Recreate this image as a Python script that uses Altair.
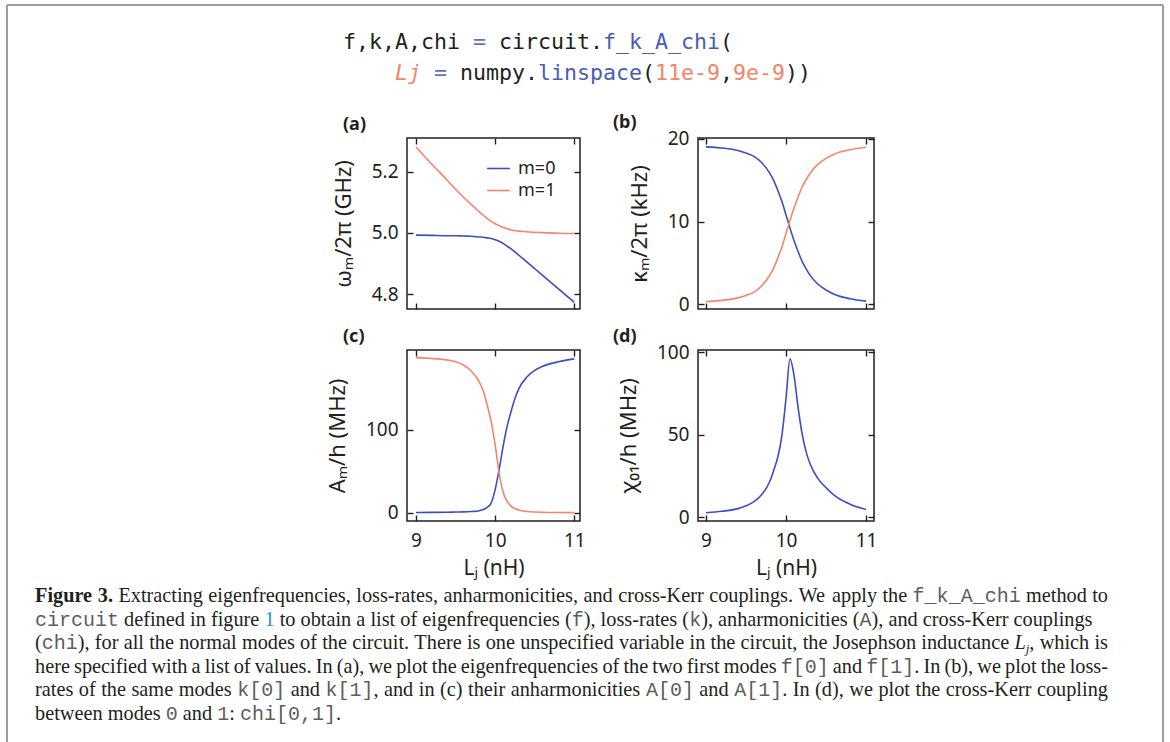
import altair as alt
import pandas as pd

# ---------------- data ----------------
Lj = [9.0, 9.2, 9.4, 9.5, 9.6, 9.7, 9.8, 9.85, 9.9, 9.95, 10.0, 10.05,
      10.1, 10.15, 10.2, 10.25, 10.3, 10.4, 10.5, 10.6, 10.8, 11.0]
f_m0 = [4.993, 4.992, 4.991, 4.991, 4.990, 4.989, 4.987, 4.986, 4.984, 4.982, 4.978, 4.973,
        4.966, 4.957, 4.948, 4.938, 4.927, 4.905, 4.883, 4.861, 4.817, 4.773]
f_m1 = [5.282, 5.225, 5.171, 5.143, 5.117, 5.093, 5.069, 5.058, 5.047, 5.038, 5.030, 5.024,
        5.018, 5.014, 5.010, 5.008, 5.006, 5.004, 5.002, 5.001, 4.999, 4.998]
k_m0 = [19.05, 18.9, 18.6, 18.3, 17.9, 17.1, 15.8, 14.9, 13.7, 12.4, 10.8, 9.2,
        7.7, 6.4, 5.2, 4.3, 3.5, 2.4, 1.7, 1.2, 0.65, 0.35]
k_m1 = [0.3, 0.45, 0.75, 1.05, 1.45, 2.25, 3.55, 4.45, 5.65, 6.95, 8.55, 10.15,
        11.65, 12.95, 14.15, 15.05, 15.85, 16.95, 17.65, 18.15, 18.7, 19.0]
A_m0 = [0.3, 0.4, 0.6, 0.8, 1.0, 1.5, 2.5, 3.8, 6.5, 12, 28, 52,
        80, 104, 122, 138, 150, 164, 172, 177, 182.5, 186]
A_m1 = [187.5, 186.5, 184.5, 182.5, 178.5, 171, 158, 147, 130, 110, 82, 48,
        25, 14, 8, 5, 3.3, 1.5, 0.8, 0.5, 0.2, 0.1]
chi_01 = [2.8, 3.7, 5.3, 7.0, 9.5, 14, 22, 29, 37, 50, 72, 96,
          86, 67, 51, 40, 32.5, 23.5, 18, 13.5, 8, 4.8]

modes = ["m=0", "m=1"]
colors = ["#3d4ec2", "#f3866b"]
x_ticks = [9, 10, 11]

code_lines = [
    [("k", "f,k,A,chi "), ("e", "="), ("k", " circuit."), ("b", "f_k_A_chi"), ("k", "(")],
    [("k", "    "), ("oi", "Lj"), ("k", " "), ("e", "="), ("k", " numpy."), ("b", "linspace"),
     ("k", "("), ("o", "11e-9"), ("k", ","), ("o", "9e-9"), ("k", "))")],
]

caption_lines = [
    [("b", "Figure 3."), ("r", " Extracting eigenfrequencies, loss-rates, anharmonicities, and cross-Kerr couplings. We apply the "),
     ("m", "f_k_A_chi"), ("r", " method to")],
    [("m", "circuit"), ("r", " defined in figure "), ("l", "1"), ("r", " to obtain a list of eigenfrequencies ("),
     ("m", "f"), ("r", "), loss-rates ("), ("m", "k"), ("r", "), anharmonicities ("), ("m", "A"),
     ("r", "), and cross-Kerr couplings")],
    [("r", "("), ("m", "chi"), ("r", "), for all the normal modes of the circuit. There is one unspecified variable in the circuit, the Josephson inductance "),
     ("i", "L"), ("s", "j"), ("r", ", which is")],
    [("r", "here specified with a list of values. In (a), we plot the eigenfrequencies of the two first modes "),
     ("m", "f[0]"), ("r", " and "), ("m", "f[1]"), ("r", ". In (b), we plot the loss-")],
    [("r", "rates of the same modes "), ("m", "k[0]"), ("r", " and "), ("m", "k[1]"),
     ("r", ", and in (c) their anharmonicities "), ("m", "A[0]"), ("r", " and "), ("m", "A[1]"),
     ("r", ". In (d), we plot the cross-Kerr coupling")],
    [("r", "between modes "), ("m", "0"), ("r", " and "), ("m", "1"), ("r", ": "), ("m", "chi[0,1]"), ("r", ".")],
]
justify = [True, False, True, True, True, False]

# ---------------- styling ----------------
SANS = "Noto Sans"
SERIF = "Liberation Serif"
MONO = "DejaVu Sans Mono"
CMONO = "Liberation Mono"
INK = "#231f20"
FS = 19
TFS = 22

W_L, W_R, H = 173, 176, 171
COLS = [407, W_L, 118, W_R, 296]
ROWS = [138, H, 41, H, 221]


def series_df(ys, names):
    rows = []
    for name, y in zip(names, ys):
        for x, v in zip(Lj, y):
            rows.append({"Lj": x, "val": v, "mode": name})
    return pd.DataFrame(rows)


def panel(df, ydom, yvals, yfmt, ytitle, xdom, w, label, ldx, ldy, bottom, legend=None):
    xs = alt.Scale(domain=xdom, nice=False, zero=False)
    ys = alt.Scale(domain=ydom, nice=False, zero=False)
    xaxis = dict(values=x_ticks, format="d", grid=False, domain=False, ticks=False,
                 labelFont=SANS, labelFontSize=FS, labelColor=INK, labelPadding=10,
                 titleFont=SANS, titleFontSize=21, titleColor=INK, titleFontWeight="normal",
                 titlePadding=7)
    if bottom:
        xaxis["title"] = "Lⱼ (nH)"
    else:
        xaxis["labels"] = False
        xaxis["title"] = None
    main = alt.Chart(df).mark_line(strokeWidth=1.6, interpolate="monotone").encode(
        x=alt.X("Lj:Q", scale=xs, axis=alt.Axis(orient="bottom", **xaxis)),
        y=alt.Y("val:Q", scale=ys, axis=alt.Axis(
            orient="left", values=yvals, format=yfmt, grid=False, domain=False, ticks=False,
            labelFont=SANS, labelFontSize=FS, labelColor=INK, labelPadding=9,
            title=ytitle, titleFont=SANS, titleFontSize=TFS, titleColor=INK,
            titleFontWeight="normal", titlePadding=16)),
        color=alt.Color("mode:N", scale=alt.Scale(domain=modes, range=colors), legend=legend),
    )
    tk = dict(labels=False, domain=False, grid=False, ticks=True, tickSize=6,
              tickWidth=1.4, tickColor=INK, title=None)
    t1 = alt.Chart(df).mark_point(opacity=0, size=0).encode(
        x=alt.X("Lj:Q", scale=xs, axis=alt.Axis(orient="top", offset=-H, values=x_ticks, **tk)),
        y=alt.Y("val:Q", scale=ys, axis=alt.Axis(orient="right", offset=-w, values=yvals, **tk)),
    )
    t2 = alt.Chart(df).mark_point(opacity=0, size=0).encode(
        x=alt.X("Lj:Q", scale=xs, axis=alt.Axis(orient="bottom", offset=-H, values=x_ticks, **tk)),
        y=alt.Y("val:Q", scale=ys, axis=alt.Axis(orient="left", offset=-w, values=yvals, **tk)),
    )
    lab = alt.Chart(alt.Data(values=[{"t": label}])).mark_text(
        align="left", baseline="middle", font=SANS, fontSize=18, fontWeight="bold", color=INK
    ).encode(x=alt.value(ldx), y=alt.value(ldy), text="t:N")
    return alt.layer(main, t1, t2, lab).resolve_axis(x="independent", y="independent").properties(
        width=w, height=H, view=alt.ViewBackground(stroke=INK, strokeWidth=1.5))


def spacer(w, h):
    return alt.Chart(alt.Data(values=[{"a": 0}])).mark_point(opacity=0, size=0).encode(
        x=alt.value(w / 2), y=alt.value(h / 2)).properties(width=w, height=h)


leg = alt.Legend(orient="none", legendX=79, legendY=18, title=None, symbolType="stroke",
                 symbolSize=520, symbolStrokeWidth=1.6, labelFont=SANS, labelFontSize=18,
                 labelColor=INK, rowPadding=0, labelOffset=7, padding=0)

xdom_l = [8.886, 11.072]
xdom_r = [8.9, 11.1]

pa = panel(series_df([f_m0, f_m1], modes), [4.751, 5.311], [4.8, 5.0, 5.2], ".1f",
           "ωₘ/2π (GHz)", xdom_l, W_L, "(a)", -64, -13, False, leg)
pb = panel(series_df([k_m0, k_m1], modes), [-0.6, 20.12], [0, 10, 20], "d",
           "κₘ/2π (kHz)", xdom_r, W_R, "(b)", -85, -15, False)
pc = panel(series_df([A_m0, A_m1], modes), [-10, 196.7], [0, 100], "d",
           "Aₘ/h (MHz)", xdom_l, W_L, "(c)", -64, -13, True)
pd_ = panel(series_df([chi_01], modes[:1]), [-2.2, 101.4], [0, 50, 100], "d",
            "χ₀₁/h (MHz)", xdom_r, W_R, "(d)", -85, -13, True)

# ---------------- header (code + frame) ----------------
code_colors = {"k": INK, "e": "#6470b8", "b": "#4a5cb6", "o": "#f2846a", "oi": "#f2846a"}
code_rows = []
for li, runs in enumerate(code_lines):
    col = 0
    for style, txt in runs:
        s = txt.lstrip(" ")
        lead = len(txt) - len(s)
        s = s.rstrip(" ")
        if s:
            code_rows.append({"line": li, "col": col + lead, "txt": s, "style": style})
        col += len(txt)
code_df = pd.DataFrame(code_rows)

hx = alt.X("col:Q", scale=alt.Scale(domain=[0, 1], range=[343, 356]), axis=None)
hy = alt.Y("line:Q", scale=alt.Scale(domain=[0, 1], range=[49, 80]), axis=None)
header_layers = []
for style, color in code_colors.items():
    sub = code_df[code_df["style"] == style]
    if len(sub) == 0:
        continue
    header_layers.append(alt.Chart(sub).mark_text(
        align="left", baseline="alphabetic", font=MONO, fontSize=21.6, color=color,
        fontStyle=("italic" if style == "oi" else "normal")).encode(x=hx, y=hy, text="txt:N"))
one = alt.Data(values=[{"a": 0}])
border = [
    alt.Chart(one).mark_rule(color="#9c9c9c", strokeWidth=2).encode(
        x=alt.value(7), x2=alt.value(1163), y=alt.value(5)),
    alt.Chart(one).mark_rule(color="#9c9c9c", strokeWidth=2).encode(
        x=alt.value(7), y=alt.value(5), y2=alt.value(742)),
    alt.Chart(one).mark_rule(color="#9c9c9c", strokeWidth=2).encode(
        x=alt.value(1163), y=alt.value(5), y2=alt.value(742)),
]
header = alt.layer(*border, *header_layers).properties(width=COLS[0], height=ROWS[0])

# ---------------- caption ----------------
SFS = 20.3
CW = 12.0
TR = dict(zip("abcdefghijklmnopqrstuvwxyz",
              [444, 500, 444, 500, 444, 333, 500, 500, 278, 278, 500, 278, 778, 500, 500, 500,
               500, 333, 389, 278, 500, 500, 722, 500, 500, 444]))
TR.update(dict(zip("ABCDEFGHIJKLMNOPQRSTUVWXYZ",
                   [722, 667, 667, 722, 611, 556, 722, 722, 333, 389, 722, 611, 889, 722, 722,
                    556, 722, 667, 556, 611, 722, 722, 944, 722, 722, 611])))
TR.update({" ": 250, ",": 250, ".": 250, "(": 333, ")": 333, "-": 333, ":": 278})
TR.update({d: 500 for d in "0123456789"})
TB = dict(TR)
TB.update({"F": 611, "u": 556, "r": 444, "i": 278, "g": 500, "e": 444})
TI = {"L": 556, "j": 278}


def piece_width(style, txt):
    if style == "m":
        return CW * len(txt)
    if style == "s":
        return 0.278 * 13 * len(txt)
    table = TB if style == "b" else (TI if style == "i" else TR)
    return sum(table.get(c, 500) for c in txt) / 1000.0 * SFS


cap_rows = []
LEFT, RIGHT = 35, 1108
for li, runs in enumerate(caption_lines):
    words = [[]]
    for style, txt in runs:
        parts = txt.split(" ")
        for pi, p in enumerate(parts):
            if pi > 0:
                words.append([])
            if p:
                words[-1].append((style, p))
    words = [w for w in words if w]
    widths = [sum(piece_width(s, t) for s, t in w) for w in words]
    gap = 0.25 * SFS
    if justify[li] and len(words) > 1:
        gap = (RIGHT - LEFT - sum(widths)) / (len(words) - 1)
    x = LEFT
    for w, wd in zip(words, widths):
        px = x
        for s, t in w:
            cap_rows.append({"line": li, "x": px, "txt": t, "style": s})
            px += piece_width(s, t)
        x += wd + gap
cap_df = pd.DataFrame(cap_rows)

cx = alt.X("x:Q", scale=alt.Scale(domain=[0, 1], range=[0, 1]), axis=None)
cy = alt.Y("line:Q", scale=alt.Scale(domain=[0, 1], range=[81, 104.6]), axis=None)
cap_styles = {
    "r": dict(font=SERIF, fontSize=SFS, color=INK),
    "b": dict(font=SERIF, fontSize=SFS, color=INK, fontWeight="bold"),
    "i": dict(font=SERIF, fontSize=SFS, color=INK, fontStyle="italic"),
    "s": dict(font=SERIF, fontSize=13, color=INK, fontStyle="italic", dy=4),
    "l": dict(font=SERIF, fontSize=SFS, color="#2a90d0"),
    "m": dict(font=CMONO, fontSize=20, color="#5e5e5e"),
}
cap_layers = []
for style, kw in cap_styles.items():
    sub = cap_df[cap_df["style"] == style]
    if len(sub) == 0:
        continue
    cap_layers.append(alt.Chart(sub).mark_text(align="left", baseline="alphabetic", **kw).encode(
        x=cx, y=cy, text="txt:N"))
caption = alt.layer(*cap_layers).properties(width=COLS[0], height=ROWS[4])

# ---------------- assemble as a single 5x5 grid (flush bounds) ----------------
cells = [
    header, spacer(COLS[1], ROWS[0]), spacer(COLS[2], ROWS[0]), spacer(COLS[3], ROWS[0]), spacer(COLS[4], ROWS[0]),
    spacer(COLS[0], H), pa, spacer(COLS[2], H), pb, spacer(COLS[4], H),
    spacer(COLS[0], ROWS[2]), spacer(COLS[1], ROWS[2]), spacer(COLS[2], ROWS[2]), spacer(COLS[3], ROWS[2]), spacer(COLS[4], ROWS[2]),
    spacer(COLS[0], H), pc, spacer(COLS[2], H), pd_, spacer(COLS[4], H),
    caption, spacer(COLS[1], ROWS[4]), spacer(COLS[2], ROWS[4]), spacer(COLS[3], ROWS[4]), spacer(COLS[4], ROWS[4]),
]

chart = alt.concat(*cells, columns=5, spacing=0, bounds="flush") \
    .resolve_scale(color="independent").resolve_legend(color="independent") \
    .properties(padding=0, background="white") \
    .configure_view(strokeWidth=0)

chart.save("out.html", embed_options={"renderer": "svg", "actions": False})
